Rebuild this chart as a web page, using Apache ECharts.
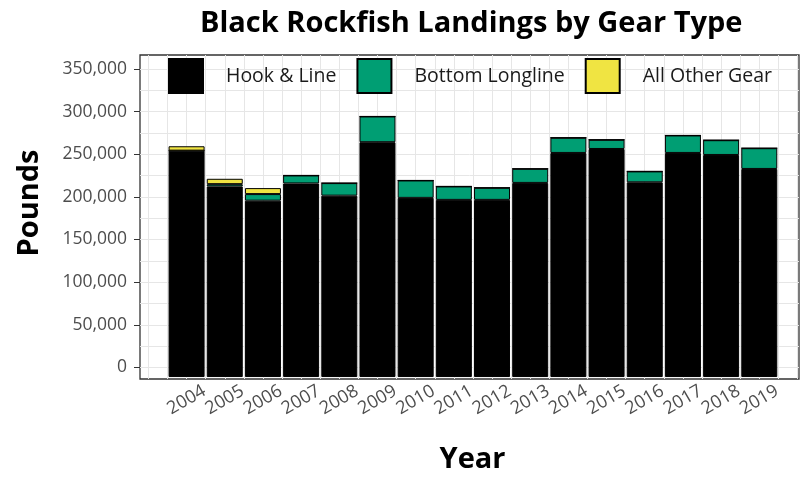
<!DOCTYPE html>
<html><head><meta charset="utf-8">
<script src="https://cdn.jsdelivr.net/npm/echarts@6/dist/echarts.min.js"></script>
<style>html,body{margin:0;padding:0;background:#fff}#c{width:807px;height:479px}</style>
</head><body><div id="c"></div>
<script>
const years = [2004,2005,2006,2007,2008,2009,2010,2011,2012,2013,2014,2015,2016,2017,2018,2019];
const hookLine = [257500,216800,200600,220200,206300,267100,203800,201500,201500,220800,254900,259400,221500,254900,252600,236700];
const bottomLongline = [0,2600,7500,9100,14300,29300,19800,15300,13800,16100,17300,10500,12400,19900,16800,23600];
const allOtherGear = [5000,6100,6800,0,0,0,0,0,0,0,0,0,0,0,0,0];
const yTickValues = [0,50000,100000,150000,200000,250000,300000,350000];
const seriesNames = ['Hook & Line','Bottom Longline','All Other Gear'];
const colors = ['#000000','#009E73','#F0E442'];

const font = 'Open Sans';
const halfYears = [];
for (let y = years[0]-1; y <= years[years.length-1]+1; y += 0.5) halfYears.push(y);
const minorY = [];
for (let v = yTickValues[0]; v <= yTickValues[yTickValues.length-1]; v += 25000) minorY.push(v);

const W = 807;
const gL = 140, gR = 8, gT = 55, gB = 90;
const xMin = 2002.78, xMax = 2020.04, yMin = -13600, yMax = 366300;
// bar grid aligned so that category bands coincide with years on the value axis
const pxPerYear = (W - gL - gR) / (xMax - xMin);
const bL = gL + (years[0] - 0.5 - xMin) * pxPerYear;
const bR = gR + (xMax - (years[years.length-1] + 0.5)) * pxPerYear;

const gridLine = {show:true, lineStyle:{color:'#e6e6e6', width:1}};

const chart = echarts.init(document.getElementById('c'), null, {renderer:'canvas'});
const mk = (name, arr, i) => ({
  name, type:'bar', stack:'total', xAxisIndex:2, yAxisIndex:2, barWidth:36,
  itemStyle:{color:colors[i], borderColor:'#000', borderWidth:1},
  data: arr
});
chart.setOption({
  animation:false,
  backgroundColor:'#fff',
  title:{text:'Black Rockfish Landings by Gear Type', left:195, top:4,
    textStyle:{fontFamily:font, fontWeight:'bold', fontSize:29, color:'#000'}},
  legend:{data:seriesNames, left:163, top:53, icon:'rect', itemWidth:34, itemHeight:34, itemGap:20,
    itemStyle:{borderColor:'#000', borderWidth:2},
    textStyle:{fontFamily:font, fontSize:19.5, color:'#1a1a1a', padding:[0,0,0,18]}},
  grid:[
    {left:gL, right:gR, top:gT, bottom:gB, show:true, borderColor:'#333', borderWidth:1.3, backgroundColor:'#fff'},
    {left:bL, right:bR, top:gT, bottom:gB, show:false}
  ],
  xAxis:[
    {type:'value', min:xMin, max:xMax, gridIndex:0, position:'bottom',
     axisLine:{show:false}, axisTick:{show:false, customValues:halfYears}, axisLabel:{show:false, customValues:halfYears},
     splitLine:gridLine},
    {type:'value', min:xMin, max:xMax, gridIndex:0, position:'bottom',
     axisLine:{show:false}, axisTick:{show:true, length:6, customValues:years, lineStyle:{color:'#333'}},
     axisLabel:{customValues:years, rotate:30, align:'center', verticalAlign:'middle', margin:21,
       fontFamily:font, fontSize:18, color:'#4d4d4d', formatter:v=>String(Math.round(v))},
     splitLine:{show:false},
     name:'Year', nameLocation:'middle', nameGap:66,
     nameTextStyle:{fontFamily:font, fontWeight:'bold', fontSize:29, color:'#000', padding:[0,0,0,6]}},
    {type:'category', data:years, gridIndex:1, show:false, boundaryGap:true}
  ],
  yAxis:[
    {type:'value', min:yMin, max:yMax, gridIndex:0, position:'left',
     axisLine:{show:false}, axisTick:{show:false, customValues:minorY}, axisLabel:{show:false, customValues:minorY},
     splitLine:gridLine},
    {type:'value', min:yMin, max:yMax, gridIndex:0, position:'left',
     axisLine:{show:false}, axisTick:{show:true, length:6, customValues:yTickValues, lineStyle:{color:'#333'}},
     axisLabel:{customValues:yTickValues, margin:13, fontFamily:font, fontSize:17.5, color:'#4d4d4d',
       formatter:v=>Math.round(v).toLocaleString('en-US')},
     splitLine:{show:false},
     name:'Pounds', nameLocation:'middle', nameGap:96,
     nameTextStyle:{fontFamily:font, fontWeight:'bold', fontSize:29, color:'#000', padding:[0,0,0,28]}},
    {type:'value', min:yMin, max:yMax, gridIndex:1, show:false, splitLine:{show:false}}
  ],
  series:[mk(seriesNames[0], hookLine, 0), mk(seriesNames[1], bottomLongline, 1), mk(seriesNames[2], allOtherGear, 2)]
});
</script></body></html>
